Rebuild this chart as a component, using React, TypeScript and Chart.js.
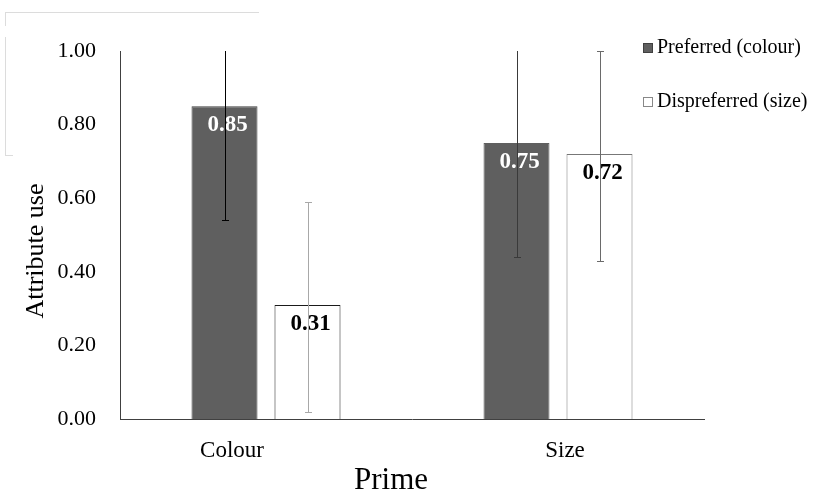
import React, { useEffect, useRef } from 'react';
import { Chart, registerables } from 'chart.js';

Chart.register(...registerables);

const categories = ['Colour', 'Size'];
const seriesNames = ['Preferred (colour)', 'Dispreferred (size)'];
const preferred = [0.85, 0.75];
const dispreferred = [0.31, 0.72];
const preferredLow = [0.54, 0.44];
const preferredHigh = [1.16, 1.06];
const dispreferredLow = [0.02, 0.43];
const dispreferredHigh = [0.59, 1.0];
const yMin = 0;
const yMax = 1;
const yStep = 0.2;
const xTitle = 'Prime';
const yTitle = 'Attribute use';

const SERIF = '"Liberation Serif", "Times New Roman", Times, serif';

const errorSets = [
  { low: preferredLow, high: preferredHigh, colors: ['#000000', '#3a3a3a'] },
  { low: dispreferredLow, high: dispreferredHigh, colors: ['#a8a8a8', '#6a6a6a'] },
];
const labelColors = ['#ffffff', '#000000'];
const xLabelNudge = [-34, 7];

const overlay = {
  id: 'overlay',
  afterDatasetsDraw(chart: any) {
    const ctx = chart.ctx as CanvasRenderingContext2D;
    const ys = chart.scales.y;
    const xs = chart.scales.x;
    const area = chart.chartArea;

    // value labels
    chart.data.datasets.forEach((ds: any, di: number) => {
      const meta = chart.getDatasetMeta(di);
      meta.data.forEach((bar: any, i: number) => {
        ctx.save();
        ctx.font = `bold 23px ${SERIF}`;
        ctx.fillStyle = labelColors[di];
        ctx.textAlign = 'center';
        ctx.textBaseline = 'middle';
        ctx.fillText(Number(ds.data[i]).toFixed(2), bar.x + 3, bar.y + 19);
        ctx.restore();
      });
    });

    // error bars
    errorSets.forEach((es, di) => {
      const meta = chart.getDatasetMeta(di);
      meta.data.forEach((bar: any, i: number) => {
        const cx = Math.round(bar.x) + 0.5;
        const yHi = ys.getPixelForValue(es.high[i]);
        const yLo = ys.getPixelForValue(es.low[i]);
        const top = Math.max(yHi, area.top);
        ctx.save();
        ctx.strokeStyle = es.colors[i];
        ctx.lineWidth = 1;
        ctx.beginPath();
        ctx.moveTo(cx, Math.round(top));
        ctx.lineTo(cx, Math.round(yLo));
        const capY = (v: number) => Math.round(v) + 0.5;
        ctx.moveTo(cx - 3.5, capY(yLo));
        ctx.lineTo(cx + 3.5, capY(yLo));
        if (yHi >= area.top - 0.5) {
          ctx.moveTo(cx - 3.5, capY(Math.max(yHi, area.top)));
          ctx.lineTo(cx + 3.5, capY(Math.max(yHi, area.top)));
        }
        ctx.stroke();
        ctx.restore();
      });
    });

    // category labels
    ctx.save();
    ctx.fillStyle = '#000';
    ctx.font = `23px ${SERIF}`;
    ctx.textAlign = 'center';
    ctx.textBaseline = 'alphabetic';
    categories.forEach((c, i) => {
      ctx.fillText(c, xs.getPixelForValue(i) + xLabelNudge[i], 457);
    });
    // x title
    ctx.font = `31px ${SERIF}`;
    ctx.fillText(xTitle, 391, 489);
    // y title
    ctx.translate(43, 251);
    ctx.rotate(-Math.PI / 2);
    ctx.font = `26px ${SERIF}`;
    ctx.fillText(yTitle, 0, 0);
    ctx.restore();

    // legend
    ctx.save();
    chart.data.datasets.forEach((ds: any, di: number) => {
      const top = 43 + di * 54;
      ctx.fillStyle = ds.legendFill;
      ctx.fillRect(643, top, 10, 10);
      ctx.strokeStyle = ds.legendStroke;
      ctx.lineWidth = 1;
      ctx.strokeRect(643.5, top + 0.5, 9, 9);
      ctx.fillStyle = '#000';
      ctx.font = `20px ${SERIF}`;
      ctx.textAlign = 'left';
      ctx.textBaseline = 'alphabetic';
      ctx.fillText(seriesNames[di], 657, top + 10);
    });
    ctx.restore();

    // faint frame remnant at top-left
    ctx.save();
    ctx.strokeStyle = '#dcdcdc';
    ctx.lineWidth = 1;
    ctx.beginPath();
    ctx.moveTo(5, 12.5);
    ctx.lineTo(259, 12.5);
    ctx.moveTo(5.5, 12);
    ctx.lineTo(5.5, 26);
    ctx.moveTo(5.5, 37);
    ctx.lineTo(5.5, 155);
    ctx.moveTo(5, 155.5);
    ctx.lineTo(13, 155.5);
    ctx.stroke();
    ctx.restore();
  },
};

export default function App() {
  const canvasRef = useRef<HTMLCanvasElement | null>(null);

  useEffect(() => {
    if (!canvasRef.current) return;
    const chart = new Chart(canvasRef.current, {
      type: 'bar',
      data: {
        labels: categories,
        datasets: [
          {
            label: seriesNames[0],
            data: preferred,
            backgroundColor: '#5f5f5f',
            borderColor: ['#404040', '#5f5f5f'],
            borderWidth: 1,
            categoryPercentage: 166 / 292,
            barPercentage: 66 / 83,
            legendFill: '#5f5f5f',
            legendStroke: '#404040',
          } as any,
          {
            label: seriesNames[1],
            data: dispreferred,
            backgroundColor: '#ffffff',
            borderColor: ['#1a1a1a', '#777777'],
            borderWidth: 1,
            categoryPercentage: 166 / 292,
            barPercentage: 66 / 83,
            legendFill: '#ffffff',
            legendStroke: '#888888',
          } as any,
        ],
      },
      options: {
        responsive: false,
        animation: false,
        devicePixelRatio: 1,
        layout: { padding: { top: 51, right: 113, left: 0, bottom: 0 } },
        plugins: {
          legend: { display: false },
          tooltip: { enabled: false },
        },
        scales: {
          x: {
            type: 'category',
            offset: true,
            grid: { display: false, drawTicks: false },
            border: { display: true, color: '#404040', width: 1 },
            ticks: { display: false },
            afterFit: (s: any) => {
              s.height = 74;
            },
          },
          y: {
            min: yMin,
            max: yMax,
            grid: { display: false, drawTicks: false },
            border: { display: true, color: '#404040', width: 1 },
            ticks: {
              stepSize: yStep,
              padding: 24,
              color: '#000',
              font: { family: SERIF, size: 22 },
              callback: (v: any) => Number(v).toFixed(2),
            },
            afterFit: (s: any) => {
              s.width = 120;
            },
          },
        },
      },
      plugins: [overlay],
    });
    return () => chart.destroy();
  }, []);

  return (
    <div style={{ position: 'fixed', left: 0, top: 0, width: 817, height: 493, background: '#fff' }}>
      <canvas ref={canvasRef} width={817} height={493} />
    </div>
  );
}
